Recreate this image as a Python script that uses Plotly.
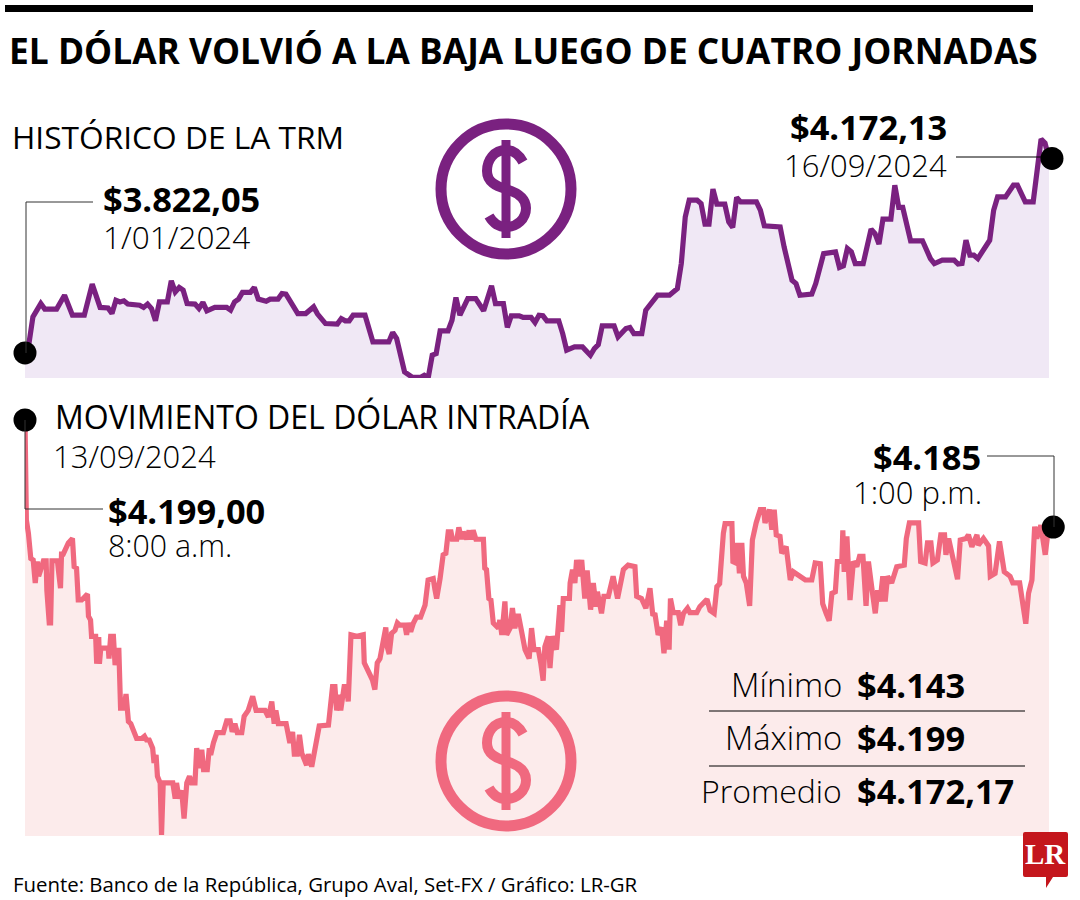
import pandas as pd
import plotly.graph_objects as go

trm_day = [0,1,2,4,5,8,10,12,15,17,19,21,22,23,24,25,26,29,30,31,32,33,34,36,37,38,39,40,41,43,44,45,46,48,51,52,53,54,55,57,58,59,61,62,64,65,66,69,71,73,74,76,79,80,81,82,83,86,88,92,93,94,96,98,100,101,102,103,104,105,107,108,109,110,112,114,116,118,119,121,122,123,125,126,128,129,
130,131,132,135,136,137,139,141,143,144,145,146,149,150,152,153,154,156,157,159,160,163,165,166,167,168,170,171,172,173,174,175,177,178,179,180,181,185,186,187,191,192,194,195,196,199,200,202,205,206,207,208,209,210,212,214,215,216,217,219,220,221,222,224,227,229,230,232,235,236,237,238,239,240,241,244,245,246,248,250,251,253,255,257,258,259]
trm_value = [3822,3839,3887,3911,3901,3901,3926,3890,3890,3946,3904,3903,3893,3917,3914,3916,3910,3908,3904,3910,3902,3880,3914,3914,3952,3932,3940,3935,3911,3910,3902,3913,3898,3904,3904,3899,3914,3919,3931,3931,3940,3919,3915,3919,3919,3929,3928,3893,3893,3905,3892,3875,3874,3884,3880,3880,3890,3890,3842,3842,3859,3848,3788,3778,3778,3782,3778,3818,3821,3862,3862,3881,3922,3890,3920,3920,3898,3943,3911,3911,3868,3889,3889,3886,3886,3877,
3890,3889,3880,3880,3857,3827,3833,3833,3818,3830,3837,3871,3871,3851,3866,3868,3857,3857,3899,3917,3926,3926,3938,3983,4067,4097,4097,4091,4054,4054,4117,4090,4090,4058,4048,4102,4094,4094,4079,4051,4049,4013,3953,3947,3926,3928,3947,4001,4004,3976,3979,4010,4004,3983,3983,4045,4037,4018,4063,4063,4124,4084,4084,4024,4024,3992,3983,3989,3989,3982,3983,4025,3998,3998,3992,4025,4079,4103,4103,4124,4124,4094,4094,4207,4200,4172]

intra_min = [0,0.3,0.4,1.0,1.7,2.4,3.0,3.6,4.0,4.9,5.4,6.2,6.4,7.1,7.5,7.9,9.5,9.8,10.4,10.7,11.2,12.7,13.9,14.4,15.1,15.6,16.6,18.3,18.6,19.2,19.5,20.7,21.0,21.6,21.8,22.2,24.4,24.6,25.1,25.9,26.4,26.9,27.5,28.0,29.0,29.6,30.3,31.0,32.7,34.2,35.0,35.6,36.4,37.4,37.8,38.4,38.8,39.6,40.0,40.5,43.3,44.0,44.4,45.1,45.9,46.6,47.4,48.2,48.8,49.8,50.3,51.1,51.8,52.3,53.4,54.0,54.4,55.2,56.2,58.1,59.1,60.1,60.7,61.5,62.2,63.5,64.2,65.4,66.7,67.7,70.3,71.3,72.3,73.0,73.5,74.2,76.5,77.6,78.4,78.9,79.8,80.4,81.1,82.5,83.0,84.0,85.5,86.2,88.9,89.4,90.1,90.8,91.3,92.3,92.5,93.5,94.2,94.7,95.2,95.5,
97.2,99.1,99.4,100.6,101.8,102.5,103.2,104.0,104.8,105.7,106.1,106.7,107.4,108.4,109.1,109.8,111.3,111.8,112.3,113.0,113.8,114.7,115.9,117.2,118.1,119.6,120.1,120.6,121.6,122.5,123.3,124.0,124.8,125.2,126.5,127.1,127.9,128.4,129.4,130.1,130.6,131.3,132.1,134.3,134.7,135.2,135.9,136.5,137.2,138.7,139.1,139.7,140.6,141.1,142.1,142.8,143.5,144.5,145.5,146.5,147.7,148.4,149.1,150.4,151.1,151.8,152.3,153.3,153.8,154.5,155.7,156.7,157.2,157.7,159.5,159.7,160.4,161.1,161.6,162.4,163.1,164.0,164.7,165.7,166.5,167.3,167.7,168.9,169.6,170.9,172.3,173.6,175.3,176.7,178.7,179.2,180.6,181.9,183.1,183.9,184.6,185.5,186.5,187.2,188.0,188.7,189.1,189.9,191.4,192.1,192.9,194.1,194.8,196.8,197.7,199.8,200.7,
201.9,202.7,203.5,204.6,205.1,207.1,207.4,208.3,208.7,209.3,210.0,210.5,211.3,212.3,213.1,214.2,215.4,216.4,216.8,218.1,218.8,219.5,220.1,221.2,221.7,223.0,223.7,224.2,225.1,227.1,228.6,230.5,231.5,233.0,233.7,234.7,235.6,236.4,237.4,238.0,239.3,239.6,240.0,240.8,241.7,242.7,243.7,244.5,245.5,246.4,247.1,248.1,249.1,249.8,250.5,251.3,252.0,252.7,253.9,255.4,257.6,258.2,259.1,261.8,262.4,263.7,264.4,265.4,266.0,267.3,268.3,269.4,269.8,270.6,271.5,273.2,274.0,275.7,276.4,277.4,278.9,279.3,280.8,282.3,282.8,284.2,285.5,286.9,288.6,289.4,291.4,292.3,293.2,294.0,295.0,295.8,296.4,297.6,298.9,300.0]
intra_value = [4199.0,4192.7,4185.5,4183.7,4180.3,4180.1,4177.0,4179.9,4177.9,4179.2,4180.0,4180.0,4176.0,4171.6,4171.6,4180.0,4180.0,4178.7,4176.3,4180.9,4180.9,4182.4,4183.0,4179.2,4179.0,4174.7,4174.7,4175.5,4172.5,4172.0,4169.8,4169.8,4166.1,4169.7,4166.1,4168.2,4168.2,4166.8,4169.8,4169.8,4165.9,4167.9,4167.9,4160.1,4160.1,4162.0,4158.3,4158.0,4156.0,4156.0,4156.3,4155.8,4155.8,4154.7,4152.7,4153.8,4150.9,4150.0,4143.0,4150.0,4150.0,4147.9,4150.0,4147.9,4149.0,4145.2,4150.0,4150.9,4150.0,4150.0,4154.7,4152.0,4154.5,4151.8,4151.8,4154.7,4153.8,4155.4,4156.8,4156.8,4158.4,4158.4,4156.9,4158.0,4156.8,4156.8,4159.0,4159.8,4161.7,4159.8,4159.8,4158.9,4161.0,4158.0,4159.8,4158.0,4158.0,4155.4,4156.9,4153.9,4153.9,4156.5,4154.0,4152.4,4153.9,4152.2,4155.4,4157.7,4157.8,4159.8,4163.0,4163.0,4159.8,4161.9,4159.8,4163.0,4163.0,4161.0,4165.7,4170.0,
4169.8,4170.0,4166.2,4165.2,4163.9,4162.6,4166.2,4166.8,4169.3,4171.0,4168.4,4167.4,4170.2,4170.6,4171.6,4171.3,4171.3,4170.0,4171.6,4170.4,4171.6,4172.4,4172.4,4174.0,4177.4,4177.6,4176.1,4174.9,4177.6,4180.8,4181.0,4183.9,4183.9,4182.9,4182.9,4184.5,4182.9,4183.9,4182.9,4184.1,4182.9,4184.1,4182.9,4182.9,4179.0,4178.8,4174.9,4174.7,4171.6,4170.9,4172.0,4170.0,4174.5,4170.0,4170.9,4173.6,4170.9,4172.8,4170.4,4168.0,4166.8,4170.9,4168.0,4168.0,4166.2,4163.8,4168.4,4169.8,4165.5,4169.8,4168.0,4174.0,4170.4,4174.9,4174.9,4177.0,4178.8,4177.0,4180.1,4177.9,4180.1,4174.9,4178.7,4173.4,4177.0,4173.8,4175.8,4172.9,4175.2,4175.2,4177.9,4174.9,4178.8,4179.4,4179.2,4175.2,4174.9,4173.6,4176.3,4172.8,4172.7,4170.0,4171.0,4167.5,4171.9,4168.0,4174.9,4173.0,4173.0,4171.3,4172.9,4173.6,4173.0,4173.0,4173.8,4174.8,4173.3,
4172.9,4176.5,4176.9,4183.7,4185.0,4185.0,4179.9,4179.7,4182.4,4178.3,4182.4,4177.9,4177.0,4173.9,4182.8,4185.1,4186.9,4186.9,4185.1,4186.9,4184.2,4186.9,4183.5,4183.3,4181.0,4181.9,4178.5,4177.4,4178.5,4177.9,4177.4,4177.4,4179.7,4179.6,4174.2,4172.9,4171.9,4175.6,4175.8,4179.9,4179.9,4184.1,4178.5,4183.3,4174.7,4179.9,4179.2,4180.6,4180.6,4173.9,4179.9,4176.3,4172.9,4176.0,4174.5,4177.9,4174.5,4177.9,4177.0,4179.2,4179.4,4183.0,4185.1,4185.1,4179.9,4179.7,4182.4,4182.4,4179.7,4180.1,4183.5,4183.5,4180.8,4183.0,4181.0,4177.5,4182.8,4183.0,4183.5,4181.9,4183.5,4182.1,4183.0,4182.0,4177.9,4178.3,4182.6,4178.5,4177.9,4177.0,4177.0,4174.2,4171.5,4175.6,4177.4,4184.6,4183.0,4184.8,4180.8,4185.0]

trm_dot_date = ["2024-01-01 00:00", "2024-09-16 18:00"]
trm_dot_value = [3822.05, 4172.13]
intra_dot_time = ["2024-09-13 08:00", "2024-09-13 13:01:15"]
intra_dot_value = [4199.0, 4184.55]

table_labels = ["Mínimo", "Máximo", "Promedio"]
table_values = ["$4.143", "$4.199", "$4.172,17"]

PURPLE, PURPLE_FILL = "#7A2180", "#F0E8F5"
PINK, PINK_FILL = "#F0697F", "#FCEBEB"
INK = "#000000"
SANS = "Open Sans"

W, H = 1080, 900
trm_x = pd.Timestamp("2024-01-01") + pd.to_timedelta(trm_day, unit="D")
intra_x = pd.Timestamp("2024-09-13 08:00") + pd.to_timedelta(intra_min, unit="m")

fig = go.Figure()
# area + line pairs (area clipped at the axis floor, line allowed to spill)
for x, y, xa, ya, col, fillc in [
    (trm_x, trm_value, "x", "y", PURPLE, PURPLE_FILL),
    (intra_x, intra_value, "x2", "y2", PINK, PINK_FILL),
]:
    fig.add_trace(go.Scatter(x=x, y=y, xaxis=xa, yaxis=ya, mode="none", fill="tozeroy", fillcolor=fillc))
    fig.add_trace(go.Scatter(x=x, y=y, xaxis=xa, yaxis=ya, mode="lines", cliponaxis=False,
                             line=dict(color=col, width=5.2, shape="linear")))
fig.add_trace(go.Scatter(x=trm_dot_date, y=trm_dot_value, xaxis="x", yaxis="y", mode="markers", cliponaxis=False,
                         marker=dict(color="#000", size=23)))
fig.add_trace(go.Scatter(x=intra_dot_time, y=intra_dot_value, xaxis="x2", yaxis="y2", mode="markers", cliponaxis=False,
                         marker=dict(color="#000", size=23)))

shapes = []
def seg(x0, y0, x1, y1, color="#333333", width=1):
    shapes.append(dict(type="line", xref="x3", yref="y3", x0=x0, y0=y0, x1=x1, y1=y1,
                       line=dict(color=color, width=width), layer="above"))

seg(5, 8.5, 1033, 8.5, "#000", 7)      # top rule
seg(26, 353, 26, 202); seg(26, 202, 93, 202)
seg(956, 157, 1045, 157, "#000")
seg(25, 420, 25, 509); seg(25, 509, 103, 509)
seg(987, 456, 1054, 456); seg(1054, 456, 1054, 527)
seg(709, 711, 1025, 711, "#000"); seg(709, 766, 1025, 766, "#000")

def dollar(cy, color):
    shapes.append(dict(type="circle", xref="x3", yref="y3", x0=441, x1=571, y0=cy-65, y1=cy+65,
                       line=dict(color=color, width=11), layer="above"))
    seg(506, cy-49, 506, cy+49, color, 9)
    path = (f"M 523,{cy-27} C 518,{cy-36} 512,{cy-39} 506,{cy-39} C 494,{cy-39} 487,{cy-29} 487,{cy-18} "
            f"C 487,{cy-7} 496,{cy-3} 506,{cy} C 516,{cy+3} 526,{cy+8} 526,{cy+19} "
            f"C 526,{cy+30} 517,{cy+38} 506,{cy+38} C 499,{cy+38} 493,{cy+34} 489,{cy+27}")
    shapes.append(dict(type="path", xref="x3", yref="y3", path=path, layer="above",
                       line=dict(color=color, width=10), fillcolor="rgba(0,0,0,0)"))
dollar(189, PURPLE)
dollar(761, PINK)

# LR logo
shapes.append(dict(type="path", xref="x3", yref="y3", layer="above", fillcolor="#C4161C", line=dict(width=0),
                   path="M 1023,834 Q 1023,832 1025,832 L 1066,832 Q 1068,832 1068,834 L 1068,875 Q 1068,877 1066,877 "
                        "L 1053,877 L 1046,888 L 1046,877 L 1025,877 Q 1023,877 1023,875 Z"))

annots = []
def txt(x, y, s, size, anchor="left", weight=400, family=SANS, color=INK):
    annots.append(dict(xref="x3", yref="y3", x=x, y=y, text=s, showarrow=False, xanchor=anchor, yanchor="middle",
                       borderpad=0, font=dict(family=family, size=size, color=color, weight=weight)))

txt(8, 50, "EL DÓLAR VOLVIÓ A LA BAJA LUEGO DE CUATRO JORNADAS", 35.35, weight=700)
txt(11, 136, "HISTÓRICO DE LA TRM", 31.7, weight=400)
txt(102, 198.5, "$3.822,05", 34.4, weight=700)
txt(102, 236.5, "1/01/2024", 31.5, weight=300)
txt(948, 126.5, "$4.172,13", 34.4, "right", weight=700)
txt(947.5, 165, "16/09/2024", 31, "right", weight=300)
txt(54, 416, "MOVIMIENTO DEL DÓLAR INTRADÍA", 32, weight=400)
txt(52, 456, "13/09/2024", 31, weight=300)
txt(107, 510.5, "$4.199,00", 34.4, weight=700)
txt(107, 545, "8:00 a.m.", 30.3, weight=300)
txt(982, 456.5, "$4.185", 34.4, "right", weight=700)
txt(982.5, 492, "1:00 p.m.", 31, "right", weight=300)
for lab, val, yy, sz in zip(table_labels, table_values, [684.5, 737.5, 790.5], [33, 32.7, 32]):
    txt(842.5, yy, lab, sz, "right", weight=300)
    txt(855.5, yy, val, 34.4, weight=700)
txt(12, 884, "Fuente: Banco de la República, Grupo Aval, Set-FX / Gráfico: LR-GR", 20.4)
txt(1045.5, 854, "LR", 29, "center", weight=700, family="Liberation Serif", color="#FFFFFF")

hidden = dict(visible=False, fixedrange=True)
fig.update_layout(
    width=W, height=H, margin=dict(l=0, r=0, t=0, b=0), autosize=False,
    paper_bgcolor="#FFFFFF", plot_bgcolor="rgba(0,0,0,0)", showlegend=False,
    shapes=shapes, annotations=annots, hovermode=False,
    xaxis=dict(hidden, domain=[25/W, 1061/W], range=["2024-01-01", "2024-09-19 00:50"], type="date"),
    yaxis=dict(hidden, domain=[1-378/H, 1-100/H], range=[3777, 4277.4]),
    xaxis2=dict(hidden, domain=[25/W, 1061/W], range=["2024-09-13 08:00", "2024-09-13 13:03:31"], type="date", anchor="y2"),
    yaxis2=dict(hidden, domain=[1-836/H, 1-400/H], range=[4142.84, 4201.7], anchor="x2"),
    xaxis3=dict(hidden, domain=[0, 1], range=[0, W], anchor="y3"),
    yaxis3=dict(hidden, domain=[0, 1], range=[H, 0], anchor="x3"),
)
fig.add_trace(go.Scatter(x=[0], y=[0], xaxis="x3", yaxis="y3", mode="none", showlegend=False))
fig.write_html("out.html", config=dict(displayModeBar=False),
               post_script="document.body.style.margin='0';document.body.style.overflow='hidden';")
